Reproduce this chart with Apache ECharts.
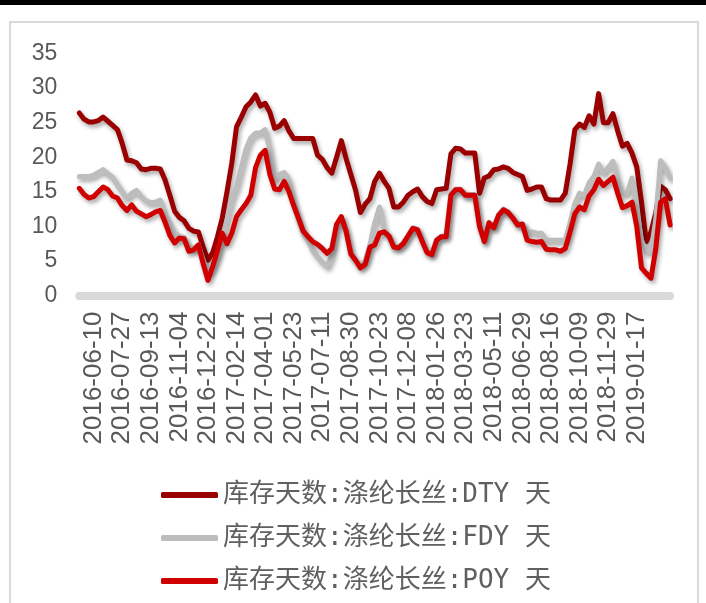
<!DOCTYPE html>
<html>
<head>
<meta charset="utf-8">
<script src="https://cdn.jsdelivr.net/npm/echarts@6/dist/echarts.min.js"></script>
<style>
  html, body { margin: 0; padding: 0; background: #fff; }
  #chart { width: 706px; height: 603px; }
</style>
</head>
<body>
<div id="chart"></div>
<script>
// Dates printed under the x axis (every 6th sample)
const labelDates = [
  '2016-06-10', '2016-07-27', '2016-09-13', '2016-11-04', '2016-12-22',
  '2017-02-14', '2017-04-01', '2017-05-23', '2017-07-11', '2017-08-30',
  '2017-10-23', '2017-12-08', '2018-01-26', '2018-03-23', '2018-05-11',
  '2018-06-29', '2018-08-16', '2018-10-09', '2018-11-29', '2019-01-17'
];
const stepsPerLabel = 6;   // samples between two printed dates
const leadSamples = 3;     // samples before the first printed date
const tailSamples = 7;     // samples after the last printed date

// 库存天数 (days of inventory), polyester filament yarn
const dty = [
  26.4, 25.5, 25.1, 25.1, 25.3, 25.8, 25.2, 24.6, 24.0, 22.0,
  19.6, 19.5, 19.2, 18.3, 18.2, 18.4, 18.4, 18.3, 16.7, 14.5,
  12.2, 11.3, 10.8, 9.7, 9.3, 9.2, 7.0, 5.1, 6.2, 8.5,
  11.2, 15.0, 19.1, 24.4, 25.8, 27.3, 28.0, 29.0, 27.4, 27.8,
  26.5, 24.2, 24.5, 25.3, 23.8, 22.7, 22.7, 22.7, 22.7, 22.7,
  20.3, 19.7, 18.5, 17.7, 20.0, 22.4, 19.8, 17.5, 15.2, 12.0,
  13.2, 14.0, 16.5, 17.7, 16.5, 15.5, 12.8, 12.8, 13.5, 14.5,
  15.0, 15.4, 14.3, 13.6, 13.3, 15.3, 15.4, 15.5, 20.5, 21.3,
  21.2, 20.6, 20.6, 20.6, 14.8, 17.0, 17.3, 18.2, 18.3, 18.6,
  18.4, 17.8, 17.5, 17.2, 15.2, 15.4, 15.7, 15.7, 14.0, 13.8,
  13.8, 13.8, 14.8, 19.0, 24.0, 24.8, 24.3, 26.0, 24.8, 29.2,
  25.0, 25.0, 26.3, 23.8, 21.6, 22.0, 20.6, 18.6, 13.5, 7.8,
  9.2, 12.0, 15.8, 15.3, 14.0
];
const fdy = [
  17.2, 17.2, 17.2, 17.4, 17.8, 18.2, 17.6, 17.1, 16.0, 15.0,
  14.1, 14.8, 15.2, 14.3, 13.7, 13.4, 13.5, 13.8, 11.8, 10.5,
  9.0, 8.6, 8.4, 7.0, 6.8, 7.3, 5.2, 3.2, 4.0, 5.6,
  8.0, 10.9, 14.0, 15.8, 18.5, 21.2, 22.8, 23.5, 23.5, 24.0,
  21.0, 16.8, 17.5, 17.8, 16.7, 13.5, 11.0, 9.0, 8.0, 6.5,
  5.6, 4.8, 4.2, 5.8, 10.2, 11.3, 9.2, 6.0, 5.0, 4.3,
  5.0, 7.3, 10.5, 12.8, 9.4, 8.6, 7.0, 7.0, 7.6, 8.7,
  9.8, 9.6, 7.9, 6.3, 6.0, 8.1, 8.6, 8.6, 14.6, 15.4,
  15.4, 14.6, 14.6, 14.6, 10.1, 7.9, 10.6, 9.9, 11.7, 12.5,
  12.1, 11.3, 10.3, 10.4, 9.2, 9.2, 9.0, 9.0, 8.0, 8.0,
  8.0, 8.0, 8.0, 10.5, 13.3, 14.8, 14.5, 16.3, 17.2, 19.0,
  17.7, 18.5, 19.4, 16.7, 14.8, 14.8, 17.0, 12.4, 8.0, 6.3,
  6.5, 11.0, 19.5, 18.5, 17.0
];
const poy = [
  15.5, 14.6, 14.1, 14.3, 15.0, 15.7, 15.3, 14.4, 14.1, 13.0,
  12.3, 13.1, 12.2, 11.8, 11.4, 11.7, 12.1, 12.3, 10.6, 8.7,
  7.6, 8.3, 8.2, 6.4, 6.6, 7.3, 4.6, 2.2, 4.2, 6.5,
  9.0, 7.5, 9.0, 11.4, 12.4, 13.3, 14.5, 18.5, 20.3, 21.0,
  17.5, 15.4, 15.3, 16.5, 15.0, 13.0, 11.2, 9.3, 8.5, 7.8,
  7.4, 6.8, 6.1, 6.8, 10.3, 11.4, 9.3, 6.0, 5.1, 4.0,
  4.5, 7.0, 7.3, 9.0, 9.2, 8.6, 7.0, 6.9, 7.5, 8.6,
  9.7, 9.5, 7.8, 6.2, 5.9, 8.0, 8.5, 8.5, 14.5, 15.3,
  15.3, 14.5, 14.5, 14.5, 10.0, 7.8, 10.5, 9.8, 11.6, 12.4,
  12.0, 11.2, 10.2, 10.3, 8.0, 7.8, 7.7, 7.8, 6.7, 6.6,
  6.6, 6.4, 6.8, 9.2, 11.8, 12.8, 12.4, 14.4, 15.3, 16.8,
  15.9, 16.5, 17.1, 14.8, 12.7, 13.0, 13.5, 10.0, 4.0, 3.2,
  2.5, 6.8, 13.5, 14.0, 10.2
];

const seriesNames = ['库存天数:涤纶长丝:DTY 天', '库存天数:涤纶长丝:FDY 天', '库存天数:涤纶长丝:POY 天'];
const seriesColors = ['#9b0000', '#bdbdbd', '#d10000'];
const yTicks = { min: 0, max: 35, interval: 5 };

// Build the date category list: printed dates plus the sample dates in between
function fmt(d) {
  const m = String(d.getUTCMonth() + 1).padStart(2, '0');
  const day = String(d.getUTCDate()).padStart(2, '0');
  return d.getUTCFullYear() + '-' + m + '-' + day;
}
function parse(s) { return new Date(s + 'T00:00:00Z'); }
const DAY = 86400000;
const categories = [];
const first = parse(labelDates[0]);
for (let k = leadSamples; k >= 1; k--) categories.push(fmt(new Date(first - k * 8 * DAY)));
for (let j = 0; j < labelDates.length; j++) {
  categories.push(labelDates[j]);
  if (j < labelDates.length - 1) {
    const a = parse(labelDates[j]), b = parse(labelDates[j + 1]);
    const span = (b - a) / DAY;
    for (let m = 1; m < stepsPerLabel; m++) {
      categories.push(fmt(new Date(a.getTime() + Math.round(m * span / stepsPerLabel) * DAY)));
    }
  }
}
const last = parse(labelDates[labelDates.length - 1]);
for (let k = 1; k <= tailSamples; k++) categories.push(fmt(new Date(last.getTime() + k * 8 * DAY)));
const lastLabelIndex = leadSamples + (labelDates.length - 1) * stepsPerLabel;

const chart = echarts.init(document.getElementById('chart'), null, { renderer: 'canvas' });

const lineShadow = {
  shadowColor: 'rgba(0,0,0,0.35)',
  shadowBlur: 4,
  shadowOffsetX: 2,
  shadowOffsetY: 3
};

function makeSeries(name, data, color) {
  return {
    name: name,
    type: 'line',
    data: data,
    symbol: 'none',
    color: color,
    lineStyle: Object.assign({ width: 5, color: color, join: 'round', cap: 'round' }, lineShadow)
  };
}

chart.setOption({
  animation: false,
  backgroundColor: '#ffffff',
  graphic: [
    { type: 'rect', shape: { x: 0, y: 0, width: 706, height: 5 }, style: { fill: '#000' }, silent: true },
    { type: 'rect', shape: { x: 10, y: 22, width: 688, height: 600 }, style: { fill: 'none', stroke: '#d9d9d9', lineWidth: 2 }, silent: true }
  ],
  grid: { left: 79.3, right: 35.9, top: 53.5, bottom: 307.5, containLabel: false },
  xAxis: {
    type: 'category',
    data: categories,
    boundaryGap: false,
    offset: 3,
    axisLine: { lineStyle: { color: '#d9d9d9', width: 8 } },
    axisTick: { show: false },
    axisLabel: {
      interval: function (idx) {
        return idx >= leadSamples && idx <= lastLabelIndex && (idx - leadSamples) % stepsPerLabel === 0;
      },
      rotate: 90,
      margin: 13,
      color: '#595959',
      fontSize: 26,
      fontFamily: 'Liberation Sans, Arial, sans-serif'
    },
    splitLine: { show: false }
  },
  yAxis: {
    type: 'value',
    min: yTicks.min,
    max: yTicks.max,
    interval: yTicks.interval,
    axisLine: { show: false },
    axisTick: { show: false },
    splitLine: { show: false },
    axisLabel: {
      margin: 22,
      color: '#595959',
      fontSize: 23,
      fontFamily: 'Liberation Sans, Arial, sans-serif'
    }
  },
  legend: {
    orient: 'vertical',
    left: 156,
    top: 475,
    icon: 'roundRect',
    itemWidth: 57,
    itemHeight: 6,
    itemGap: 13,
    itemStyle: { shadowBlur: 0, shadowOffsetX: 0, shadowOffsetY: 0, borderWidth: 0 },
    textStyle: {
      color: '#606060',
      fontSize: 26,
      lineHeight: 30,
      fontFamily: "'DejaVu Sans Mono', 'Noto Sans CJK SC', monospace",
      padding: [0, 0, 0, 0]
    },
    data: seriesNames
  },
  series: [
    makeSeries(seriesNames[0], dty, seriesColors[0]),
    makeSeries(seriesNames[1], fdy, seriesColors[1]),
    makeSeries(seriesNames[2], poy, seriesColors[2])
  ]
});
</script>
</body>
</html>
